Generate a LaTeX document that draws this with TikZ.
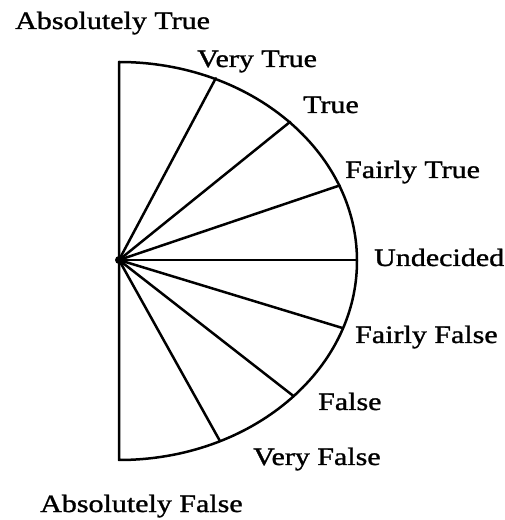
\documentclass[tikz,border=0pt]{standalone}
\usepackage{fontspec}
\setmainfont{Liberation Serif}[FakeStretch=1.2,FakeBold=1.2]
\begin{document}
\begin{tikzpicture}[x=1pt,y=1pt,
  outl/.style={line width=2.5pt, line join=round, line cap=round},
  lbl/.style={anchor=base west, inner sep=0pt, font=\fontsize{25}{30}\selectfont}]
\useasboundingbox (0,0) rectangle (504,520);
\coordinate (O) at (119,260);
% outline: vertical diameter plus elliptic arc
\draw[outl] (119,458) arc[start angle=90, end angle=-90, x radius=238, y radius=199] -- cycle;
% spoke ends on the arc
\path (O) ++(66:238pt and 199pt) coordinate (vt);
\path (O) ++(44:238pt and 199pt) coordinate (t);
\path (O) ++(22:238pt and 199pt) coordinate (ft);
\path (O) ++(0:238pt and 199pt) coordinate (u);
\path (O) ++(-20:238pt and 199pt) coordinate (ff);
\path (O) ++(-43:238pt and 199pt) coordinate (f);
\path (O) ++(-65:238pt and 199pt) coordinate (vf);
\foreach \p in {vt,t,ft,u,ff,f,vf} \draw[outl] (O) -- (\p);
\fill (O) circle (4pt);
% labels
\node[lbl] (lat) at (15,491) {Absolutely True};
\node[lbl] (lvt) at (197,453) {Very True};
\node[lbl] (lt) at (303,407) {True};
\node[lbl] (lft) at (345,342) {Fairly True};
\node[lbl] (lu) at (374,254) {Undecided};
\node[lbl] (lff) at (355,177) {Fairly False};
\node[lbl] (lf) at (318,110) {False};
\node[lbl] (lvf) at (253,55) {Very False};
\node[lbl] (laf) at (40,8) {Absolutely False};
\end{tikzpicture}
\end{document}
